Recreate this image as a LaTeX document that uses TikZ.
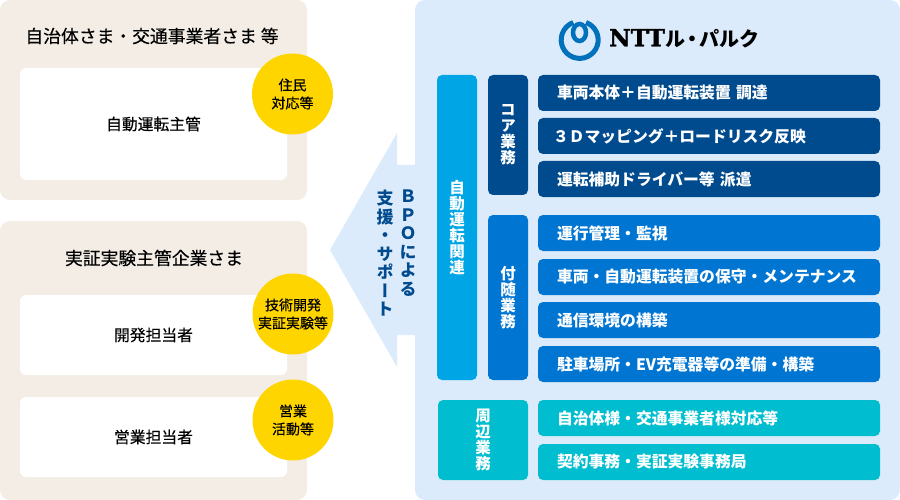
\documentclass[tikz,border=0pt]{standalone}
\usepackage{fontspec}
\setmainfont{Noto Sans CJK JP}
\newfontfamily\medfont[FakeBold=0.35]{Noto Sans CJK JP}
\newfontfamily\cjkvert[RawFeature=+vert]{Noto Sans CJK JP}
\newfontfamily\logofont[FakeBold=1.6]{DejaVu Serif}
\definecolor{panelblue}{HTML}{DCEBFB}
\definecolor{panelbeige}{HTML}{F3EDE5}
\definecolor{badgeyellow}{HTML}{FFD500}
\definecolor{navy}{HTML}{004B8E}
\definecolor{midblue}{HTML}{0075D2}
\definecolor{skyblue}{HTML}{00A5E5}
\definecolor{tealblue}{HTML}{00BDD0}
\definecolor{logoblue}{HTML}{0072BC}
\tikzset{
  panel/.style={fill=#1, rounded corners=10pt, inner sep=0pt, outer sep=0pt},
  whitebox/.style={fill=white, rounded corners=6pt, minimum width=267pt, inner sep=0pt, font=\fontsize{15.8}{18}\medfont\selectfont},
  badge/.style={circle, fill=badgeyellow, minimum size=81pt, inner sep=0pt, align=center, font=\fontsize{14}{18}\medfont\selectfont},
  headline/.style={font=\fontsize{17.8}{20}\medfont\selectfont, inner sep=0pt},
  rowbox/.style={fill=#1, rounded corners=5pt, minimum height=36pt, text width=304pt, inner xsep=19pt, inner ysep=0pt, align=left, text=white, font=\fontsize{15.8}{18}\bfseries\selectfont},
  colbox/.style={fill=#1, rounded corners=5pt, inner sep=0pt, align=center, text=white, font=\fontsize{15.5}{16}\bfseries\cjkvert\selectfont},
  vertlabel/.style={text=navy, inner sep=0pt, align=center, font=\fontsize{17}{18.5}\bfseries\cjkvert\selectfont}
}
\begin{document}
\begin{tikzpicture}[x=1pt, y=-1pt]
  \useasboundingbox (0,0) rectangle (900,500);
  % left side
  \node[panel=panelbeige, minimum width=307pt, minimum height=200pt] (cityPanel) at (153.5,100) {};
  \node[panel=panelbeige, minimum width=307pt, minimum height=279pt] (firmPanel) at (153.5,360.5) {};
  \node[headline] (cityTitle) at (152,36) {自治体さま・交通事業者さま 等};
  \node[headline] (firmTitle) at (154,258) {実証実験主管企業さま};
  \node[whitebox, minimum height=112pt] (cityBox) at (153.5,124) {自動運転主管};
  \node[whitebox, minimum height=80pt] (devBox) at (153.5,335) {開発担当者};
  \node[whitebox, minimum height=80pt] (salesBox) at (153.5,437) {営業担当者};
  \node[badge] (cityBadge) at (292.5,94) {住民\\対応等};
  \node[badge] (devBadge) at (293,314) {技術開発\\実証実験等};
  \node[badge] (salesBadge) at (293,420) {営業\\活動等};
  % right side
  \node[panel=panelblue, minimum width=485pt, minimum height=500pt] (nttPanel) at (657.5,250) {};
  \fill[panelblue] (416,165) -- (397,165) -- (397,133) -- (330,250) -- (397,367) -- (397,335) -- (416,335) -- cycle;
  \node[vertlabel, anchor=north] (bpoLabel) at (408,190) {Ｂ\\Ｐ\\Ｏ\\に\\よ\\る};
  \node[vertlabel, anchor=north] (supportLabel) at (385,190) {支\\援\\・\\サ\\ポ\\ー\\ト};
  % logo
  \draw[line width=5pt, color=logoblue] (586,22.5) arc[start angle=-70, end angle=250, radius=18.5];
  \draw[line width=4.5pt, color=logoblue] (579.5,32.5) ellipse[x radius=6.5, y radius=8.5];
  \node[anchor=west, inner sep=0pt] (nttLogo) at (609,38.5) {{\logofont\bfseries\fontsize{23.5}{28}\selectfont NTT}\kern1pt{\bfseries\fontsize{20}{24}\selectfont ル\kern-3pt・\kern-3pt パルク}};
  % columns
  \node[colbox=skyblue, minimum width=40pt, minimum height=305pt] (autoCol) at (457,227.5) {自\\動\\運\\転\\関\\連};
  \node[colbox=navy, minimum width=40pt, minimum height=120pt] (coreCol) at (508,135) {コ\\ア\\業\\務};
  \node[colbox=midblue, minimum width=40pt, minimum height=165pt] (extraCol) at (508,297.5) {付\\随\\業\\務};
  \node[colbox=tealblue, minimum width=90pt, minimum height=80pt] (otherCol) at (483,440) {周\\辺\\業\\務};
  % rows
  \node[rowbox=navy] (coreA) at (709,93) {車両本体＋自動運転装置 調達};
  \node[rowbox=navy] (coreB) at (709,136) {\kern-4pt ３Ｄマッピング＋ロードリスク反映};
  \node[rowbox=navy] (coreC) at (709,179) {運転補助ドライバー等 派遣};
  \node[rowbox=midblue] (extraA) at (709,233) {運行管理・監視};
  \node[rowbox=midblue] (extraB) at (709,277) {車両・自動運転装置の保守・メンテナンス};
  \node[rowbox=midblue] (extraC) at (709,320) {通信環境の構築};
  \node[rowbox=midblue] (extraD) at (709,364) {駐車場所・EV充電器等の準備・構築};
  \node[rowbox=tealblue] (otherA) at (709,418) {自治体様・交通事業者様対応等};
  \node[rowbox=tealblue] (otherB) at (709,462) {契約事務・実証実験事務局};
\end{tikzpicture}
\end{document}
